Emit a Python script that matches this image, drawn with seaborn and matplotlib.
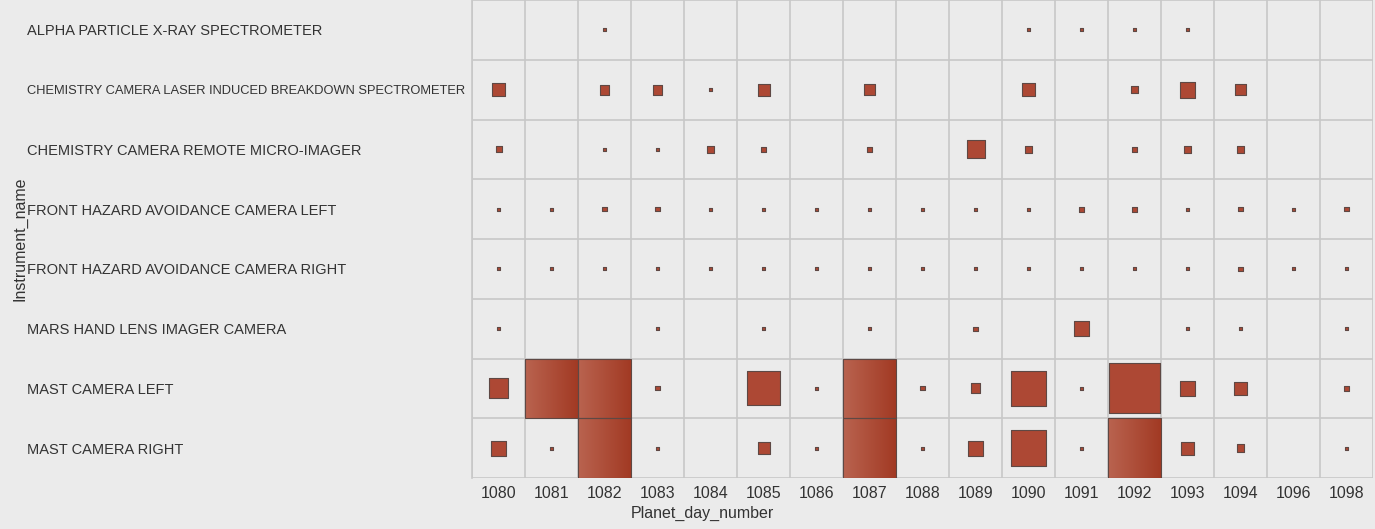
import numpy as np
import pandas as pd
import matplotlib
matplotlib.use('Agg')
import matplotlib.pyplot as plt
from matplotlib.colors import LinearSegmentedColormap
import seaborn as sns

# data: number of images per instrument and sol
sols = [1080, 1081, 1082, 1083, 1084, 1085, 1086, 1087, 1088, 1089,
        1090, 1091, 1092, 1093, 1094, 1096, 1098]
instruments = [
    'ALPHA PARTICLE X-RAY SPECTROMETER',
    'CHEMISTRY CAMERA LASER INDUCED BREAKDOWN SPECTROMETER',
    'CHEMISTRY CAMERA REMOTE MICRO-IMAGER',
    'FRONT HAZARD AVOIDANCE CAMERA LEFT',
    'FRONT HAZARD AVOIDANCE CAMERA RIGHT',
    'MARS HAND LENS IMAGER CAMERA',
    'MAST CAMERA LEFT',
    'MAST CAMERA RIGHT',
]
apxs = [0, 0, 1, 0, 0, 0, 0, 0, 0, 0, 1, 1, 1, 1, 0, 0, 0]
chemcam_libs = [19, 0, 11, 11, 1, 16, 0, 13, 0, 0, 19, 0, 5, 28, 13, 0, 0]
chemcam_rmi = [4, 0, 1, 1, 5, 3, 0, 3, 0, 36, 5, 0, 3, 5, 6, 0, 0]
fhaz_left = [1, 1, 2, 2, 1, 1, 1, 1, 1, 1, 1, 3, 3, 1, 2, 1, 2]
fhaz_right = [1, 1, 1, 1, 1, 1, 1, 1, 1, 1, 1, 1, 1, 1, 2, 1, 1]
mahli = [1, 0, 0, 1, 0, 1, 0, 1, 0, 2, 0, 25, 0, 1, 1, 0, 1]
mast_left = [44, 500, 700, 2, 0, 128, 1, 600, 2, 11, 135, 1, 280, 27, 19, 0, 3]
mast_right = [25, 1, 600, 1, 0, 16, 1, 600, 1, 25, 140, 1, 420, 19, 7, 0, 1]

series = [apxs, chemcam_libs, chemcam_rmi, fhaz_left, fhaz_right,
          mahli, mast_left, mast_right]

rows = []
for r, vals in enumerate(series):
    for c, v in enumerate(vals):
        if v > 0:
            rows.append({'row': r, 'col': c, 'count': v})
df = pd.DataFrame(rows)

sns.set_theme(style='white')
plt.rcParams['font.family'] = ['Liberation Sans', 'DejaVu Sans']

BG = '#ebebeb'
GRID = '#c8c8c8'
FILL = '#ad4834'
EDGE = '#5e4844'
TXT = '#333333'
grad = LinearSegmentedColormap.from_list('g', ['#b9634f', '#a23a24'])

W, H, DPI = 13.75, 5.29, 100
fig = plt.figure(figsize=(W, H), dpi=DPI, facecolor=BG)
ax_left, ax_w = 472 / 1375, 901 / 1375
ax_bot, ax_h = 51 / 529, 478 / 529
ax = fig.add_axes([ax_left, ax_bot, ax_w, ax_h], facecolor=BG)

ncol, nrow = len(sols), len(instruments)
px_x = ax_w * W * DPI / ncol   # pixels per column
px_y = ax_h * H * DPI / nrow   # pixels per row

# square side in pixels ~ 3*sqrt(count)  -> area in pt^2 linear in count
k = (3 * 72 / DPI) ** 2
side = 3 * np.sqrt(df['count'])
fits = side <= px_x

sns.scatterplot(data=df[fits], x='col', y='row', size='count',
                sizes=(0, k * 1000), size_norm=(0, 1000), marker='s',
                color=FILL, edgecolor=EDGE, linewidth=0.8, legend=False,
                ax=ax, zorder=3)

# oversized marks are clipped to their cell
big = df[~fits]
bw = np.minimum(side[~fits] / px_x, 1.0)
bh = np.minimum(side[~fits] / px_y, 1.0)
bars = ax.bar(big['col'], bh, width=bw, bottom=big['row'] - bh / 2,
              color=FILL, edgecolor=EDGE, linewidth=0.8, zorder=3)
for p in bars:
    x0, y0 = p.get_x(), p.get_y()
    im = ax.imshow(np.linspace(0, 1, 64).reshape(1, -1), cmap=grad,
                   extent=(x0, x0 + p.get_width(), y0 + p.get_height(), y0),
                   aspect='auto', zorder=3.5)
    im.set_clip_path(p)
    p.set_facecolor('none')
    p.set_zorder(4)

ax.set_xlim(-0.5, ncol - 0.5)
ax.set_ylim(nrow - 0.5, -0.5)

ax.set_xticks(range(ncol))
ax.set_xticklabels([str(s) for s in sols], fontsize=11.5, color=TXT)
ax.set_yticks(range(nrow))
ax.set_yticklabels(instruments, fontsize=10.5, color=TXT, ha='left')
# the long label is squeezed to fit the header column
for t in ax.get_yticklabels():
    if len(t.get_text()) > 40:
        t.set_fontsize(9.3)
ax.set_xticks(np.arange(-0.5, ncol), minor=True)
ax.set_yticks(np.arange(-0.5, nrow), minor=True)

ax.tick_params(axis='x', which='major', length=0, pad=6)
ax.tick_params(axis='y', which='major', length=0, pad=(472 - 27) * 72 / DPI)
ax.tick_params(axis='x', which='minor', length=25 * 72 / DPI, color=GRID, width=1.2)
ax.tick_params(axis='y', which='minor', length=(472 - 27) * 72 / DPI, color=GRID, width=1.2)
ax.grid(True, which='minor', color=GRID, linewidth=1.2)
ax.grid(False, which='major')
ax.set_axisbelow(True)

for s in ['top', 'right', 'bottom']:
    ax.spines[s].set_visible(False)
ax.spines['left'].set_color(GRID)
ax.spines['left'].set_linewidth(1.2)

ax.set_xlabel('Planet_day_number', fontsize=11.5, color=TXT)
ax.set_ylabel('Instrument_name', fontsize=11.5, color=TXT)
ax.xaxis.set_label_coords((702 - 472) / 901, -(506 - 478) / 478)
ax.yaxis.set_label_coords((28 - 472) / 901, 0.5)

fig.savefig('out.png', dpi=DPI, facecolor=BG)
